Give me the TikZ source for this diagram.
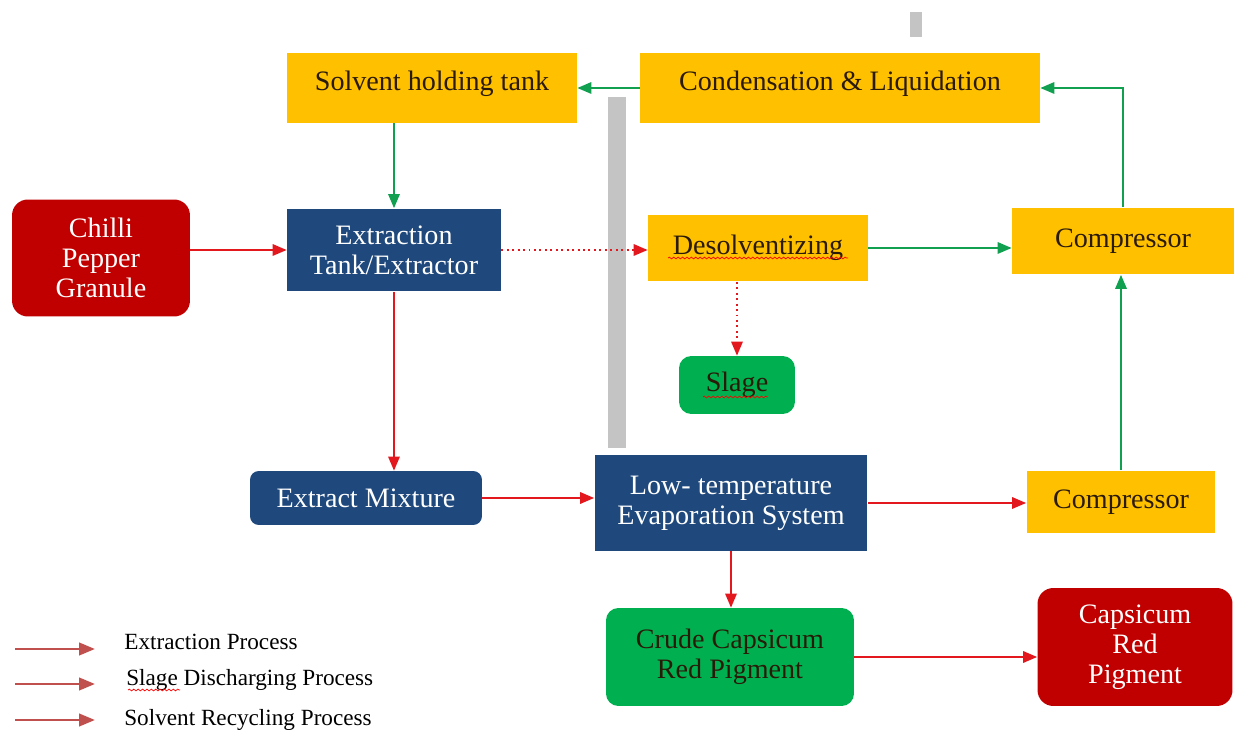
\documentclass[tikz,border=0pt]{standalone}
\usepackage{fontspec}
\setmainfont{Liberation Serif}
\usetikzlibrary{arrows.meta,decorations.pathmorphing}
\definecolor{boxyellow}{HTML}{FFC000}
\definecolor{boxblue}{HTML}{1F497D}
\definecolor{boxred}{HTML}{C00000}
\definecolor{boxgreen}{HTML}{00B050}
\definecolor{darktext}{HTML}{2A1A08}
\definecolor{flowred}{HTML}{E3171E}
\definecolor{flowgreen}{HTML}{10A050}
\definecolor{legendred}{HTML}{C0504D}
\definecolor{bargray}{HTML}{C4C4C4}
\tikzset{
  stage/.style={rectangle, inner sep=0pt, align=center, font=\fontsize{16}{17}\selectfont},
  yellowbox/.style={stage, fill=boxyellow, text=darktext},
  bluebox/.style={stage, fill=boxblue, text=white},
  redbox/.style={stage, fill=boxred, text=white, rounded corners=9pt},
  greenbox/.style={stage, fill=boxgreen, text=darktext, rounded corners=7pt},
  flow/.style={->, flowred, line width=1.1pt},
  discharge/.style={->, flowred, dotted, line width=1.1pt},
  recycle/.style={->, flowgreen, line width=1.1pt},
  legendarrow/.style={->, legendred, line width=1.6pt, >={Triangle[length=9pt,width=7pt]}},
  legendtext/.style={anchor=west, inner sep=0pt, font=\fontsize{13.2}{15}\selectfont},
  spellmark/.style={red, line width=0.4pt, decorate, decoration={snake, amplitude=0.5pt, segment length=2.5pt}}
}
\begin{document}
\begin{tikzpicture}[x=0.02cm, y=-0.02cm, >={Triangle[length=8pt,width=6.5pt]}]
	\useasboundingbox (0,0) rectangle (1235,736);
	% grey bars
	\fill[bargray] (910,12) rectangle (922,37);
	\fill[bargray] (608,97) rectangle (626,448);
	% stages
	\node[yellowbox, minimum width=5.8cm, minimum height=1.4cm] (holding) at (432,88) {\raisebox{8pt}{Solvent holding tank}};
	\node[yellowbox, minimum width=8cm, minimum height=1.4cm] (condense) at (840,88) {\raisebox{8pt}{Condensation \& Liquidation}};
	\node[redbox, minimum width=3.56cm, minimum height=2.34cm] (chilli) at (101,258) {Chilli\\Pepper\\Granule};
	\node[bluebox, minimum width=4.28cm, minimum height=1.66cm] (extractor) at (394,250) {Extraction\\Tank/Extractor};
	\node[yellowbox, minimum width=4.4cm, minimum height=1.34cm] (desolv) at (758,248) {Desolventizing};
	\node[yellowbox, minimum width=4.44cm, minimum height=1.34cm] (comptop) at (1123,241) {Compressor};
	\node[greenbox, minimum width=2.32cm, minimum height=1.16cm] (slage) at (737,385) {Slage};
	\node[bluebox, rounded corners=5pt, minimum width=4.64cm, minimum height=1.08cm] (mixture) at (366,498) {Extract Mixture};
	\node[bluebox, minimum width=5.46cm, minimum height=1.92cm] (evap) at (731,503) {Low- temperature\\Evaporation System};
	\node[yellowbox, minimum width=3.78cm, minimum height=1.26cm] (compbot) at (1121,502) {Compressor};
	\node[greenbox, minimum width=4.96cm, minimum height=1.96cm] (crude) at (730,657) {Crude Capsicum\\Red Pigment};
	\node[redbox, minimum width=3.9cm, minimum height=2.36cm] (pigment) at (1135,647) {Capsicum\\Red\\Pigment};
	% spell-check marks
	\draw[spellmark] (668,258) -- (848,258);
	\draw[spellmark] (703,397) -- (768,397);
	% extraction
	\draw[flow] (extractor.west -| chilli.east) -- (extractor.west);
	\draw[flow] (extractor.south) -- (extractor.south |- mixture.north);
	\draw[flow] (mixture.east) -- (mixture.east -| evap.west);
	\draw[flow] (evap.east) -- (evap.east -| compbot.west);
	\draw[flow] (evap.south) -- (evap.south |- crude.north);
	\draw[flow] (crude.east) -- (crude.east -| pigment.west);
	% slage discharging
	\draw[discharge] (extractor.east) -- (extractor.east -| desolv.west);
	\draw[discharge] (slage.north |- desolv.south) -- (slage.north);
	% solvent recycling
	\draw[recycle] (desolv.east) -- (desolv.east -| comptop.west);
	\draw[recycle] (compbot.north) -- (compbot.north |- comptop.south);
	\draw[recycle] (comptop.north) |- (condense.east);
	\draw[recycle] (condense.west) -- (holding.east);
	\draw[recycle] (extractor.north |- holding.south) -- (extractor.north);
	% legend
	\coordinate (lega) at (15,649);
	\coordinate (legb) at (15,684);
	\coordinate (legc) at (15,720);
	\draw[legendarrow] (lega) -- ++(80,0);
	\draw[legendarrow] (legb) -- ++(80,0);
	\draw[legendarrow] (legc) -- ++(80,0);
	\node[legendtext] (legtexta) at (124,642) {Extraction Process};
	\node[legendtext] (legtextb) at (126,680) {Slage Discharging Process};
	\node[legendtext] (legtextc) at (124,720) {Solvent Recycling Process};
	\draw[spellmark] (128,690) -- (180,690);
\end{tikzpicture}
\end{document}
